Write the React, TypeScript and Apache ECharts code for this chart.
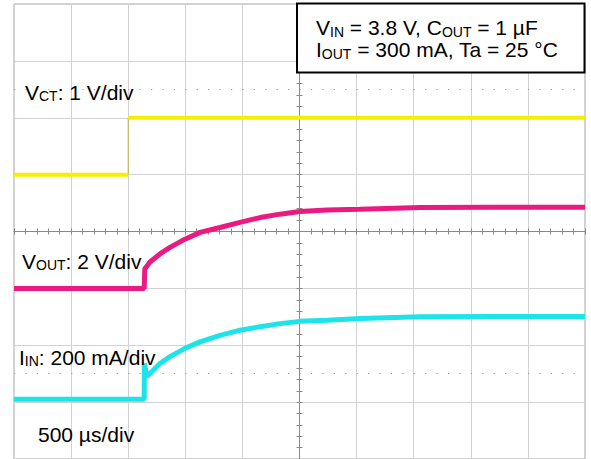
import React, { useEffect, useRef } from "react";
import * as echarts from "echarts";

// ---- Oscilloscope frame ----
const timeDivUs = 500; // 500 µs/div
const timeDivs = 10;
const ampDivs = 8;
const dottedRows = [6.5, 1.5]; // dotted reference rows (in divisions from bottom)

// ---- V_CT channel: 1 V/div, ground at 5 div ----
const vctScale = 1;
const vctGround = 5;
const vctTimeUs = [0, 1000, 1000, 5000];
const vctVolts = [0, 0, 1, 1];

// ---- V_OUT channel: 2 V/div, ground at 3 div ----
const voutScale = 2;
const voutGround = 3;
const voutTimeUs = [0, 1140, 1145, 1191, 1278, 1366, 1497, 1629, 1804, 1979, 2155, 2329, 2504, 2741, 3030, 3555, 4200, 5000];
const voutVolts = [0, 0, 0.68, 0.93, 1.21, 1.44, 1.73, 1.97, 2.14, 2.32, 2.49, 2.61, 2.7, 2.76, 2.78, 2.84, 2.85, 2.85];

// ---- I_IN channel: 200 mA/div, ground at 1.05 div ----
const iinScale = 200;
const iinGround = 1.05;
const iinTimeUs = [0, 1140, 1142, 1165, 1191, 1278, 1366, 1497, 1629, 1804, 1979, 2155, 2329, 2504, 2741, 3030, 3555, 4200, 5000];
const iinMilliAmps = [0, 0, 126, 80, 91, 126, 150, 179, 202, 225, 243, 255, 266, 274, 278, 284, 290, 291, 291];

const FONT = "'Liberation Sans', Arial, sans-serif";

function toDivs(ts: number[], vs: number[], ground: number, scale: number) {
  return ts.map((t, i) => [t, ground + vs[i] / scale]);
}

// split a trace into horizontal parts at vertical edges (equal times)
function withGaps(points: number[][]) {
  const out: any[] = [];
  points.forEach((p, i) => {
    if (i > 0 && p[0] === points[i - 1][0]) out.push([p[0], "-"]);
    out.push(p);
  });
  return out;
}
function edges(points: number[][]) {
  const out: any[] = [];
  points.forEach((p, i) => {
    if (i > 0 && p[0] === points[i - 1][0]) {
      out.push(points[i - 1], p, [p[0], "-"]);
    }
  });
  return out;
}

const gridRect = { left: 14, right: 6, top: 4, bottom: -2 };

const crossAxis = (gridIndex: number, inside: boolean, isX: boolean) => ({
  type: "value",
  gridIndex,
  min: isX ? -timeDivs / 2 : -ampDivs / 2,
  max: isX ? timeDivs / 2 : ampDivs / 2,
  interval: 1,
  axisLine: { show: true, onZero: true, lineStyle: { color: "#8a8a8a", width: 1 } },
  axisTick: { show: true, inside, length: 3, lineStyle: { color: "#8a8a8a", width: 1 } },
  minorTick: { show: true, splitNumber: 5, length: 3, lineStyle: { color: "#8a8a8a", width: 1 } },
  axisLabel: { show: false },
  splitLine: { show: false },
});

function label(x: number, baseline: number, text: string, lh = 21) {
  return {
    type: "text",
    x,
    y: baseline - 18 - (lh - 21) / 2,
    z: 20,
    style: {
      text,
      fontSize: 21,
      lineHeight: lh,
      fontFamily: FONT,
      fill: "#000",
      verticalAlign: "top",
      align: "left",
      rich: {
        s: { fontSize: 14, fontFamily: FONT, verticalAlign: "bottom", fill: "#000", lineHeight: lh },
      },
    },
  };
}

export default function App() {
  const ref = useRef<HTMLDivElement>(null);
  useEffect(() => {
    const chart = echarts.init(ref.current!, null, { renderer: "svg" });
    const vct = toDivs(vctTimeUs, vctVolts, vctGround, vctScale);
    const vout = toDivs(voutTimeUs, voutVolts, voutGround, voutScale);
    const iin = toDivs(iinTimeUs, iinMilliAmps, iinGround, iinScale);

    const option: any = {
      animation: false,
      backgroundColor: "#ffffff",
      grid: [
        { ...gridRect, show: true, borderColor: "#a6a6a6", borderWidth: 1, backgroundColor: "transparent" },
        { ...gridRect },
        { ...gridRect },
      ],
      xAxis: [
        {
          type: "value",
          gridIndex: 0,
          min: 0,
          max: timeDivUs * timeDivs,
          interval: timeDivUs,
          axisLine: { show: false },
          axisTick: { show: false },
          axisLabel: { show: false },
          splitLine: { show: true, lineStyle: { color: "#d2d2d2", width: 1 } },
        },
        crossAxis(1, false, true),
        crossAxis(2, true, true),
      ],
      yAxis: [
        {
          type: "value",
          gridIndex: 0,
          min: 0,
          max: ampDivs,
          interval: 1,
          axisLine: { show: false },
          axisTick: { show: false },
          axisLabel: { show: false },
          splitLine: { show: true, lineStyle: { color: "#d2d2d2", width: 1 } },
        },
        crossAxis(1, false, false),
        crossAxis(2, true, false),
      ],
      series: [
        {
          name: "VCT",
          type: "line",
          xAxisIndex: 0,
          yAxisIndex: 0,
          data: withGaps(vct),
          showSymbol: false,
          connectNulls: false,
          lineStyle: { color: "#f4f000", width: 4 },
          z: 5,
          markLine: {
            silent: true,
            symbol: "none",
            label: { show: false },
            lineStyle: { color: "#9a9a9a", width: 1, type: [1.2, 10.22] },
            data: dottedRows.map((r) => ({ yAxis: r })),
            z: 1,
          },
        },
        {
          name: "VCT edge",
          type: "line",
          xAxisIndex: 0,
          yAxisIndex: 0,
          data: edges(vct),
          showSymbol: false,
          connectNulls: false,
          lineStyle: { color: "#b9b24a", width: 1 },
          z: 4,
        },
        {
          name: "VOUT",
          type: "line",
          xAxisIndex: 0,
          yAxisIndex: 0,
          data: vout,
          showSymbol: false,
          lineStyle: { color: "#ea1a80", width: 5 },
          z: 5,
        },
        {
          name: "IIN",
          type: "line",
          xAxisIndex: 0,
          yAxisIndex: 0,
          data: iin,
          showSymbol: false,
          lineStyle: { color: "#1ee3e8", width: 5 },
          z: 5,
        },
      ],
      graphic: [
        {
          type: "rect",
          z: 15,
          shape: { x: 297, y: 3.5, width: 287.5, height: 69 },
          style: { fill: "#ffffff", stroke: "#000000", lineWidth: 2 },
        },
        label(316, 35, "V{s|IN} = 3.8 V, C{s|OUT} = 1 µF\nI{s|OUT} = 300 mA, Ta = 25 °C", 22),
        label(25, 100, "V{s|CT}: 1 V/div"),
        label(22, 269, "V{s|OUT}: 2 V/div"),
        label(19, 365, "I{s|IN}: 200 mA/div"),
        label(38, 441.5, "500 µs/div"),
      ],
    };
    chart.setOption(option);
    return () => chart.dispose();
  }, []);
  return (
    <div
      ref={ref}
      style={{ position: "fixed", left: 0, top: 0, width: 591, height: 459, background: "#fff" }}
    />
  );
}
